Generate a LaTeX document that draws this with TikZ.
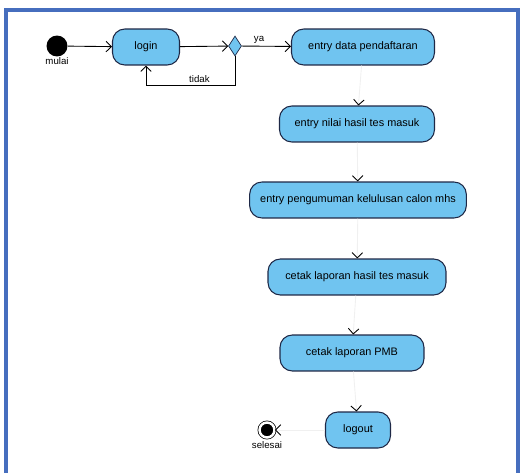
\documentclass[tikz,border=0pt]{standalone}
\usepackage{fontspec}
\setmainfont{Liberation Sans}
\usetikzlibrary{shapes.geometric,arrows.meta,positioning}

\definecolor{actblue}{RGB}{112,196,240}
\definecolor{actline}{RGB}{30,40,70}
\definecolor{framblue}{RGB}{70,110,190}

\begin{document}
\begin{tikzpicture}[x=0.02cm, y=-0.02cm,
  act/.style={draw=actline, fill=actblue, rounded corners=7pt, line width=0.6pt,
              minimum height=0.72cm, font=\fontsize{6.2}{7}\selectfont, inner xsep=6pt},
  flow/.style={draw=black, line width=0.5pt, -{Straight Barb[length=3pt,width=6pt]}},
  ghost/.style={draw=gray!12, line width=0.5pt, -{Straight Barb[length=3pt,width=6pt,color=black]}},
  lbl/.style={font=\fontsize{5.5}{6.5}\selectfont, inner sep=1pt}]
% frame round the whole diagram
\useasboundingbox (0,0) rectangle (524,473);
\draw[framblue, line width=2pt] (6,478) -- (6,10) -- (518,10) -- (518,478);
% start and decision
\node[circle, fill=black, minimum size=0.42cm, inner sep=0pt,
      label={[lbl, yshift=1pt]below:mulai}] (mulai) at (57,46) {};
\node[act, minimum width=1.34cm] (login) at (146,47) {login};
\node[diamond, draw=actline, fill=actblue, minimum width=0.26cm,
      minimum height=0.4cm, inner sep=0pt, aspect=0.6] (cek) at (235,46) {};
% activities
\node[act, minimum width=2.86cm] (daftar) at (363,47) {entry data pendaftaran};
\node[act, minimum width=3.1cm] (nilai) at (357,124) {entry nilai hasil tes masuk};
\node[act, minimum width=4.0cm] (umum) at (358,200) {entry pengumuman kelulusan calon mhs};
\node[act, minimum width=3.56cm] (lapnilai) at (357,277) {cetak laporan hasil tes masuk};
\node[act, minimum width=2.88cm] (lappmb) at (352,353) {cetak laporan PMB};
\node[act, minimum width=1.3cm] (logout) at (358,430) {logout};
% end node
\node[circle, fill=black, draw=black, double=white, double distance=1.4pt,
      minimum size=0.3cm, inner sep=0pt,
      label={[lbl, yshift=-1pt]below:selesai}] (selesai) at (267,430) {};
\coordinate (balik) at (235,85);

% horizontal flow
\draw[flow] (mulai) -- (login);
\draw[flow] (login) -- (cek);
\draw[flow] (cek) -- node[lbl, above, pos=0.35] {ya} (daftar);
\draw[flow] (cek) -- (balik) -| node[lbl, above, pos=0.2] {tidak} (login);

% vertical flow
\draw[ghost] (daftar) -- (nilai);
\draw[ghost] (nilai) -- (umum);
\draw[ghost] (umum) -- (lapnilai);
\draw[ghost] (lapnilai) -- (lappmb);
\draw[ghost] (lappmb) -- (logout);
\draw[ghost] (logout) -- (selesai);
\end{tikzpicture}
\end{document}
